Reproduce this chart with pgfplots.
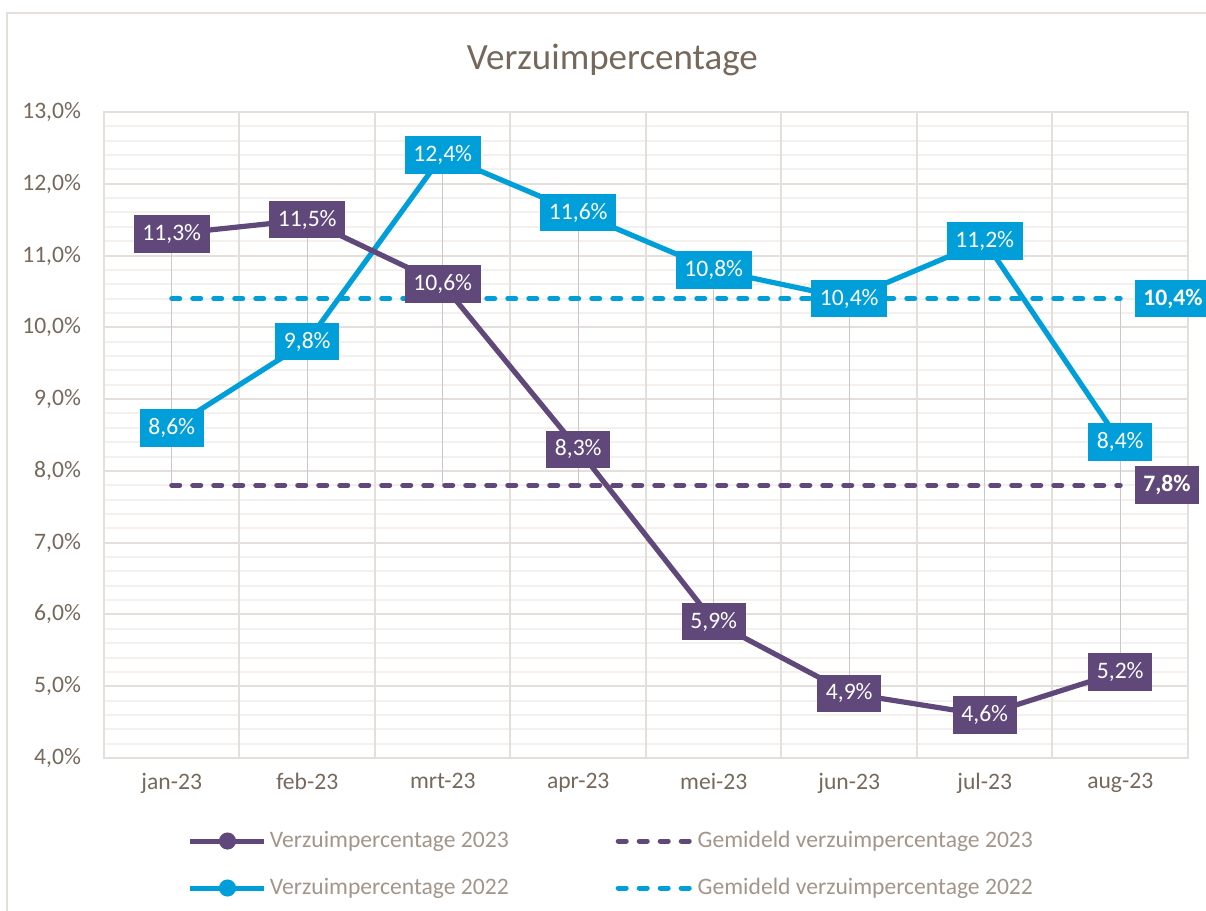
\documentclass[border=0pt]{standalone}
\usepackage{fontspec}
\setmainfont{Carlito}
\usepackage{pgfplots}
\usepackage{pgfplotstable}
\pgfplotsset{compat=1.18}
\definecolor{paars}{HTML}{60497A}
\definecolor{blauw}{HTML}{009FDA}
\definecolor{tekst}{HTML}{76695C}
\definecolor{legtekst}{HTML}{A3958A}
\definecolor{gridmaj}{HTML}{E4DFDA}
\definecolor{gridmin}{HTML}{F3F0ED}
\definecolor{hl}{HTML}{C9C9C9}

\pgfplotstableread{
x v23 v22
0 11.3 8.6
1 11.5 9.8
2 10.6 12.4
3 8.3 11.6
4 5.9 10.8
5 4.9 10.4
6 4.6 11.2
7 5.2 8.4
}\data

\newcommand{\lblfont}{\fontsize{11.8}{14}\selectfont}
\pgfplotsset{
  dlabel/.style={
    nodes near coords={\pgfmathprintnumber[fixed,fixed zerofill,precision=1,use comma,assume math mode=true]{\pgfplotspointmeta}\%},
    point meta=y,
    every node near coord/.append style={fill=#1, text=white, anchor=center,
      inner xsep=4.4pt, inner ysep=0pt, minimum height=18.8pt, font=\lblfont}
  }
}

\begin{document}
\begin{tikzpicture}
\begin{axis}[
  scale only axis, width=542pt, height=323pt,
  xmin=-0.5, xmax=7.5, ymin=4, ymax=13,
  clip=false,
  xtick={0,...,7},
  xticklabels={jan-23,feb-23,mrt-23,apr-23,mei-23,jun-23,jul-23,aug-23},
  extra x ticks={-0.5,0.5,1.5,2.5,3.5,4.5,5.5,6.5,7.5},
  extra x tick labels={},
  extra x tick style={grid=major},
  ytick={4,...,13},
  yticklabels={{4,0\%},{5,0\%},{6,0\%},{7,0\%},{8,0\%},{9,0\%},{10,0\%},{11,0\%},{12,0\%},{13,0\%}},
  minor y tick num=4,
  ymajorgrids, yminorgrids,
  major grid style={gridmaj, line width=1pt},
  minor grid style={gridmin, line width=1pt},
  axis line style={gridmaj, line width=1pt},
  major tick length=0pt, minor tick length=0pt,
  tick style={draw=none},
  tick label style={font=\lblfont, text=tekst},
  xticklabel style={yshift=-4pt},
  yticklabel style={xshift=-8pt},
  legend columns=2,
  legend cell align=left,
  legend style={draw=none, fill=none, inner sep=0pt, outer sep=0pt,
    at={(axis description cs:0,0)}, anchor=north west, xshift=42pt, yshift=-34.5pt,
    font=\lblfont, text=legtekst,
    nodes={inner sep=1.5pt, text height=8.5pt, text depth=2.5pt},
    row sep=9.5pt,
    /tikz/every even column/.append style={column sep=52pt}},
  legend image code/.code={\draw[#1,mark repeat=2,mark phase=2] plot coordinates {(0pt,0pt) (18.5pt,0pt) (37pt,0pt)};},
]
% high-low lines
\addplot[hl, line width=0.6pt, forget plot, unbounded coords=jump] coordinates {
(0,7.8) (0,11.3) (0,nan)
(1,7.8) (1,11.5) (1,nan)
(2,7.8) (2,12.4) (2,nan)
(3,7.8) (3,11.6) (3,nan)
(4,5.9) (4,10.8) (4,nan)
(5,4.9) (5,10.4) (5,nan)
(6,4.6) (6,11.2) (6,nan)
(7,5.2) (7,10.4)
};
% averages
\addplot[paars, line width=2.5pt, dash pattern=on 4pt off 6.5pt, line cap=round, forget plot] coordinates {(0,7.8) (7,7.8)};
\addplot[blauw, line width=2.5pt, dash pattern=on 4pt off 6.5pt, line cap=round, forget plot] coordinates {(0,10.4) (7,10.4)};
% series
\addplot[blauw, line width=2.6pt, mark=*, mark size=3pt, forget plot, dlabel=blauw] table[x=x,y=v22] {\data};
\addplot[paars, line width=2.6pt, mark=*, mark size=3pt, forget plot, dlabel=paars] table[x=x,y=v23] {\data};
% average labels
\addplot[draw=none, forget plot, dlabel=paars, every node near coord/.append style={anchor=west, xshift=7pt, font=\lblfont\bfseries}] coordinates {(7,7.8)};
\addplot[draw=none, forget plot, dlabel=blauw, every node near coord/.append style={anchor=west, xshift=7pt, font=\lblfont\bfseries}] coordinates {(7,10.4)};

\addlegendimage{paars, line width=2.5pt, mark=*, mark size=3pt}
\addlegendentry{Verzuimpercentage 2023}
\addlegendimage{paars, line width=2.5pt, dash pattern=on 4pt off 6.5pt, line cap=round}
\addlegendentry{Gemideld verzuimpercentage 2023}
\addlegendimage{blauw, line width=2.5pt, mark=*, mark size=3pt}
\addlegendentry{Verzuimpercentage 2022}
\addlegendimage{blauw, line width=2.5pt, dash pattern=on 4pt off 6.5pt, line cap=round}
\addlegendentry{Gemideld verzuimpercentage 2022}

\node[anchor=base, font=\fontsize{18.5}{22}\selectfont, text=tekst] at (axis description cs:0.469,1) [yshift=21.5pt] {Verzuimpercentage};
\end{axis}
\draw[gridmaj, line width=1pt] (-48.5pt,-80pt) -- (-48.5pt,372.5pt) -- (560pt,372.5pt);
\pgfresetboundingbox
\path[use as bounding box] (-52pt,-76.5pt) rectangle (551pt,379pt);
\end{tikzpicture}
\end{document}
